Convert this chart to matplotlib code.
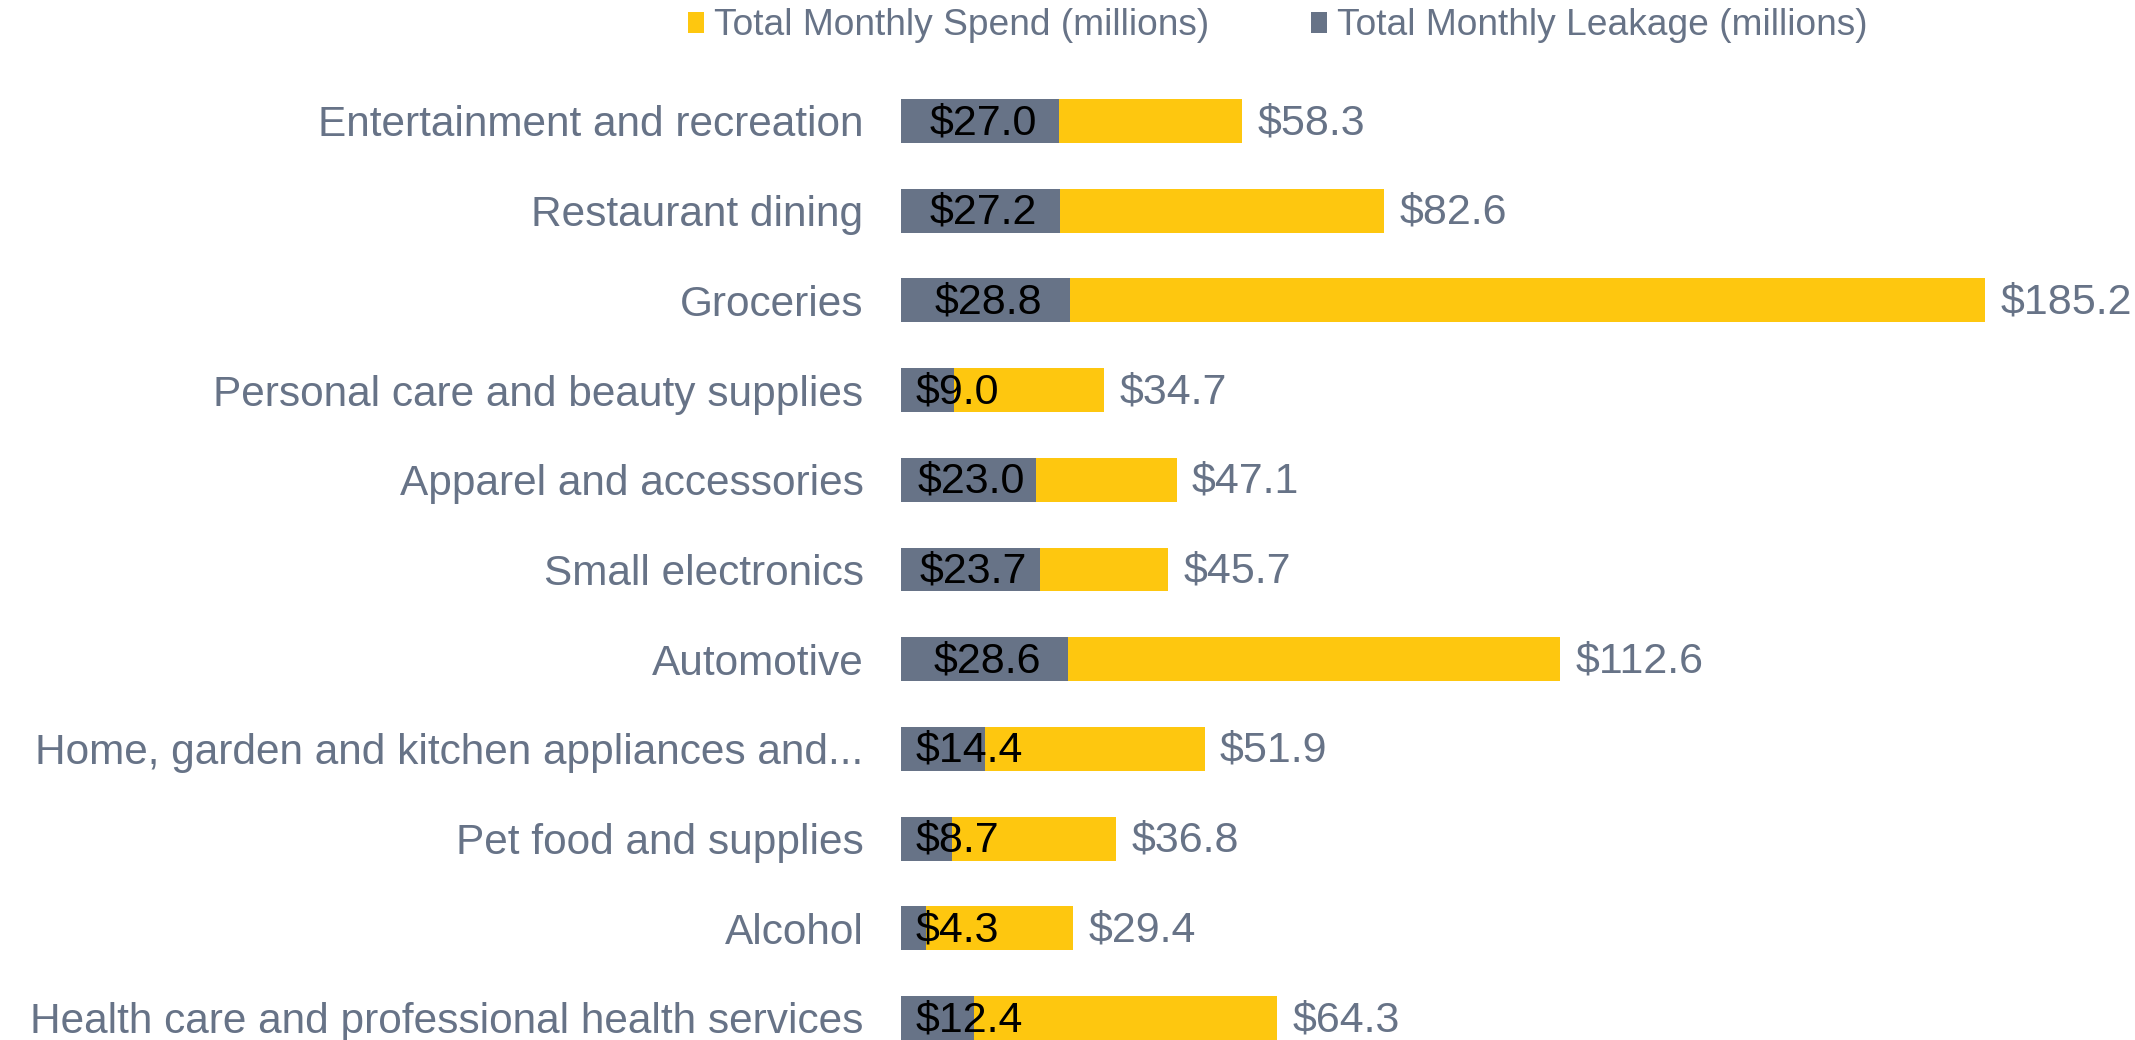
import matplotlib
matplotlib.use("Agg")
import matplotlib.pyplot as plt
import numpy as np

categories = ["Entertainment and recreation", "Restaurant dining", "Groceries",
              "Personal care and beauty supplies", "Apparel and accessories",
              "Small electronics", "Automotive",
              "Home, garden and kitchen appliances and...", "Pet food and supplies",
              "Alcohol", "Health care and professional health services"]
spend = [58.3, 82.6, 185.2, 34.7, 47.1, 45.7, 112.6, 51.9, 36.8, 29.4, 64.3]
leakage = [27.0, 27.2, 28.8, 9.0, 23.0, 23.7, 28.6, 14.4, 8.7, 4.3, 12.4]

YELLOW = "#FEC70F"
GRAY = "#677387"
FS = 31
plt.rcParams["font.family"] = ["Liberation Sans", "DejaVu Sans"]

W, H = 2135, 1040
fig = plt.figure(figsize=(W / 100, H / 100), dpi=100)
ax_left = 901 / W
ax = fig.add_axes([ax_left, 0, 1 - ax_left, 1])

y = np.arange(len(categories))
b_spend = ax.barh(y, spend, height=0.49, color=YELLOW, label="Total Monthly Spend (millions)")
b_leak = ax.barh(y, leakage, height=0.49, color=GRAY, label="Total Monthly Leakage (millions)")

ax.set_xlim(0, 185.2 * (W - 901) / (1985 - 901))
row = 89.7
ax.set_ylim(len(categories) - 1 + (H - 1018) / row, -121 / row)
ax.set_yticks(y)
ax.set_yticklabels(categories, fontsize=30.5, color=GRAY)
ax.tick_params(axis="y", length=0, pad=27)
ax.tick_params(axis="x", bottom=False, labelbottom=False)
for s in ax.spines.values():
    s.set_visible(False)

# spend value labels after the bar
for yi, v in zip(y, spend):
    ax.annotate(f"${v:.1f}", (v, yi), xytext=(11, -1.5), textcoords="offset points",
                ha="left", va="center", fontsize=FS, color=GRAY)

# leakage labels: centered on gray bar, pushed right if too wide
fig.canvas.draw()
r = fig.canvas.get_renderer()
inv = ax.transData.inverted()
x0_px = ax.transData.transform((0, 0))[0]
for yi, v in zip(y, leakage):
    t = ax.annotate(f"${v:.1f}", (v / 2, yi), xytext=(2, -1.5), textcoords="offset points",
                    ha="center", va="center", fontsize=FS, color="black")
    bb = t.get_window_extent(r)
    if bb.x0 < x0_px + 15:
        t.xy = (inv.transform((x0_px + 15, 0))[0], yi)
        t.set_position((0, -1.5))
        t.set_ha("left")

ax.legend(handles=[b_spend, b_leak], loc="upper left", bbox_to_anchor=(-0.2, 1.024),
          ncol=2, frameon=False, fontsize=26.7, labelcolor=GRAY,
          handlelength=0.45, handleheight=0.5, handletextpad=0.25, columnspacing=2.75)

fig.savefig("out.png", dpi=100)
